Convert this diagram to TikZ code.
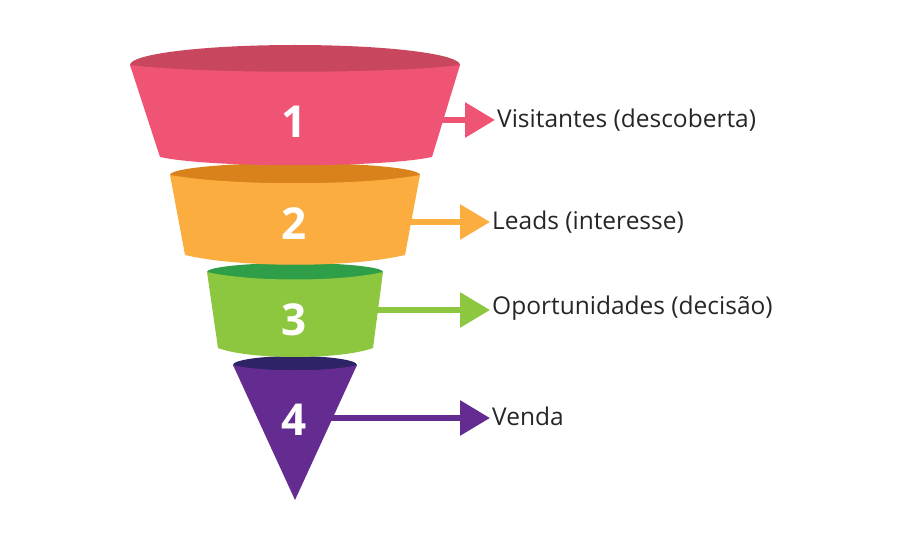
\documentclass[tikz,border=0pt]{standalone}
\usepackage{fontspec}
\setmainfont{Open Sans}
\usetikzlibrary{arrows.meta}
\definecolor{pk}{HTML}{EF5474}\definecolor{pkd}{HTML}{C9475E}
\definecolor{or}{HTML}{FBAE3F}\definecolor{ord}{HTML}{D9821B}
\definecolor{gr}{HTML}{8DC63F}\definecolor{grd}{HTML}{2E9E48}
\definecolor{pu}{HTML}{642C91}\definecolor{pud}{HTML}{2D2366}
\tikzset{num/.style={text=white,font=\bfseries\fontsize{44}{50}\selectfont},
lbl/.style={anchor=west,inner sep=2pt,font=\fontsize{24.5}{29}\selectfont,text=black!85},
arr/.style={line width=6pt,-{Triangle[length=30pt,width=34pt]}}}
\begin{document}
\begin{tikzpicture}[x=1pt,y=-1pt]
\useasboundingbox (0,0) rectangle (897,540);
% 4
\fill[pud] (295,365) ellipse (62 and 9);
\fill[pu] (233,365) .. controls (260,372) and (330,372) .. (357,365) -- (295,500) -- cycle;
% 3
\fill[grd] (295,272) ellipse (88 and 9);
\fill[gr] (207,272) .. controls (250,282) and (340,282) .. (383,272) -- (373,348) .. controls (340,360) and (250,360) .. (218,348) -- cycle;
% 2
\fill[ord] (295,175) ellipse (125 and 12);
\fill[or] (170,175) .. controls (230,186) and (360,186) .. (420,175) -- (405,255) .. controls (350,268) and (240,268) .. (185,255) -- cycle;
% 1
\fill[pkd] (295,65) ellipse (165 and 20);
\fill[pk] (130,65) .. controls (200,74) and (390,74) .. (460,65) -- (432,157) .. controls (380,168) and (210,168) .. (160,157) -- cycle;
\node[num] (n1) at (294,122) {1};
\node[num] (n2) at (294,224) {2};
\node[num] (n3) at (294,320) {3};
\node[num] (n4) at (294,420) {4};
\coordinate (s1) at (440,120); \coordinate (s2) at (405,222);
\coordinate (s3) at (375,310); \coordinate (s4) at (330,418);
\node[lbl] (l1) at (495,120) {Visitantes (descoberta)};
\node[lbl] (l2) at (490,222) {Leads (interesse)};
\node[lbl] (l3) at (490,308) {Oportunidades (decisão)};
\node[lbl] (l4) at (490,416) {Venda};
\draw[arr,pk] (s1) -- (s1 -| l1.west);
\draw[arr,or] (s2) -- (s2 -| l2.west);
\draw[arr,gr] (s3) -- (s3 -| l3.west);
\draw[arr,pu] (s4) -- (s4 -| l4.west);
\end{tikzpicture}
\end{document}
